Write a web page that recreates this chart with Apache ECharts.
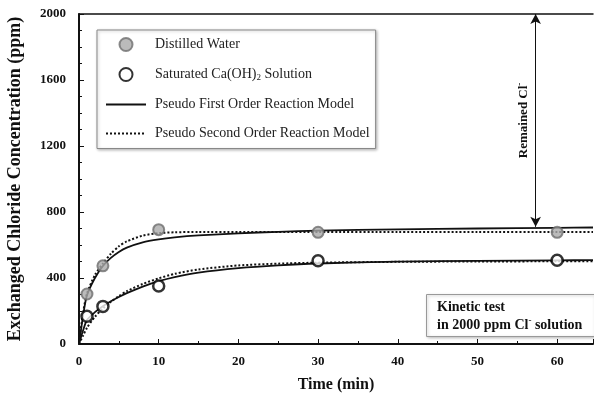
<!DOCTYPE html>
<html>
<head>
<meta charset="utf-8">
<script src="https://cdn.jsdelivr.net/npm/echarts@6/dist/echarts.min.js"></script>
<style>
  html, body { margin: 0; padding: 0; background: #fff; }
  #container { width: 594px; height: 394px; }
</style>
</head>
<body>
<div id="container"></div>
<script>
// measured points (time in min, concentration in ppm)
var timePts = [1, 3, 10, 30, 60];
var distilledWater = [303, 474, 693, 677, 677];
var saturatedCaOH = [168, 228, 352, 505, 507];

// fitted model curves
var modelTime = [0, 0.5, 1, 2, 3, 4, 5, 6, 8, 10, 12, 15, 20, 25, 30, 40, 50, 60, 64.5];
var dwFirst  = [0, 168, 295, 400, 473, 522, 558, 584, 616, 634, 646, 658, 671, 680, 687, 695, 700, 704, 706];
var dwSecond = [0, 185, 306, 418, 487, 547, 592, 622, 657, 672, 677, 679, 679, 679, 679, 679, 679, 679, 679];
var caFirst  = [0, 80, 145, 193, 229, 259, 285, 308, 348, 381, 406, 433, 460, 477, 488, 499, 504, 507, 508];
var caSecond = [0, 50, 98, 165, 215, 256, 290, 320, 364, 398, 425, 452, 476, 487, 493, 498, 500, 501, 501];

var remainedLine = [710, 2000];
var remainedAt = 57.3;

var legendNames = ['Distilled Water', 'Saturated Ca(OH)2 Solution',
    'Pseudo First Order Reaction Model', 'Pseudo Second Order Reaction Model'];

function zip(xs, ys) {
    var out = [];
    for (var i = 0; i < xs.length; i++) {
        out.push([xs[i], ys[i]]);
    }
    return out;
}

var serif = 'Liberation Serif';
var dom = document.getElementById("container");
var myChart = echarts.init(dom);

var noDot = {color: 'rgba(0,0,0,0)', borderColor: 'rgba(0,0,0,0)', borderWidth: 0, opacity: 0};

var option = {
    animation: false,
    textStyle: {fontFamily: serif},
    title: {
        text: '{b|Kinetic test}\n{b|in 2000 ppm Cl}{s|-}{b| solution}',
        left: 426,
        top: 292,
        padding: [6, 12, 5, 11],
        backgroundColor: '#fff',
        borderColor: '#999',
        borderWidth: 1,
        shadowColor: 'rgba(0,0,0,0.25)',
        shadowBlur: 3,
        shadowOffsetX: 1,
        shadowOffsetY: 1,
        textStyle: {
            rich: {
                b: {fontFamily: serif, fontSize: 14, fontWeight: 'bold', color: '#111', lineHeight: 18},
                s: {fontFamily: serif, fontSize: 9, fontWeight: 'bold', color: '#111', padding: [0, 0, 8, 0]}
            }
        }
    },
    legend: {
        orient: 'vertical',
        left: 97,
        top: 30,
        padding: [7, 6, 8, 8],
        itemGap: 15,
        itemWidth: 40,
        itemHeight: 13,
        backgroundColor: '#fff',
        borderColor: '#888',
        borderWidth: 1,
        shadowColor: 'rgba(0,0,0,0.25)',
        shadowBlur: 3,
        shadowOffsetX: 1,
        shadowOffsetY: 1,
        data: [
            {name: legendNames[0]},
            {name: legendNames[1]},
            {name: legendNames[2], itemStyle: noDot},
            {name: legendNames[3], itemStyle: noDot}
        ],
        formatter: function (name) {
            if (name === legendNames[1]) {
                return '{a|Saturated Ca(OH)}{s|2}{b| Solution}';
            }
            return '{a|' + name + '}';
        },
        textStyle: {
            rich: {
                a: {fontFamily: serif, fontSize: 14, color: '#222', padding: [0, 0, 0, 4]},
                b: {fontFamily: serif, fontSize: 14, color: '#222'},
                s: {fontFamily: serif, fontSize: 9, color: '#222', padding: [7, 0, 0, 0]}
            }
        }
    },
    grid: {
        left: 79,
        right: 1,
        top: 14,
        bottom: 50,
        containLabel: false,
        outerBoundsMode: 'none'
    },
    xAxis: [{
        type: 'value',
        min: 0,
        max: 64.5,
        interval: 10,
        name: 'Time (min)',
        nameLocation: 'middle',
        nameGap: 33,
        nameTextStyle: {fontFamily: serif, fontSize: 16, fontWeight: 'bold', color: '#111'},
        axisLine: {onZero: false, lineStyle: {color: '#111', width: 2}},
        axisTick: {inside: true, length: 5, lineStyle: {color: '#111'}},
        minorTick: {show: true, splitNumber: 2, length: 3, lineStyle: {color: '#111'}},
        axisLabel: {
            margin: 11,
            fontFamily: serif, fontSize: 13, fontWeight: 'bold', color: '#111',
            formatter: function (v) { return v > 60 ? '' : String(v); }
        },
        splitLine: {show: false}
    }, {
        type: 'value',
        position: 'top',
        min: 0,
        max: 64.5,
        axisLine: {show: true, onZero: false, lineStyle: {color: '#111', width: 1.5}},
        axisTick: {show: false},
        axisLabel: {show: false},
        splitLine: {show: false}
    }],
    yAxis: {
        type: 'value',
        min: 0,
        max: 2000,
        interval: 400,
        name: 'Exchanged Chloride Concentration (ppm)',
        nameLocation: 'middle',
        nameGap: 55,
        nameTextStyle: {fontFamily: serif, fontSize: 18, fontWeight: 'bold', color: '#111'},
        axisLine: {show: true, onZero: false, lineStyle: {color: '#111', width: 2}},
        axisTick: {inside: true, length: 5, lineStyle: {color: '#111'}},
        minorTick: {show: true, splitNumber: 4, length: 3, lineStyle: {color: '#111'}},
        axisLabel: {
            margin: 13, fontFamily: serif, fontSize: 13, fontWeight: 'bold', color: '#111',
            formatter: function (v) { return String(v); }
        },
        splitLine: {show: false}
    },
    series: [
        {
            name: legendNames[2],
            type: 'line',
            data: zip(modelTime, dwFirst),
            smooth: 0.25,
            symbol: 'none',
            lineStyle: {color: '#111', width: 1.8, type: 'solid'},
            itemStyle: {color: '#111'},
            markLine: {
                silent: true,
                symbol: ['arrow', 'arrow'],
                symbolSize: [8, 10],
                lineStyle: {color: '#111', width: 1, type: 'solid'},
                label: {
                    show: true,
                    position: 'insideMiddleTop',
                    distance: 3,
                    formatter: '{a|Remained Cl}{s|-}',
                    rich: {
                        a: {fontFamily: serif, fontSize: 13, fontWeight: 'bold', color: '#111'},
                        s: {fontFamily: serif, fontSize: 9, fontWeight: 'bold', color: '#111', padding: [0, 0, 8, 0]}
                    }
                },
                data: [[{coord: [remainedAt, remainedLine[0]]}, {coord: [remainedAt, remainedLine[1]]}]]
            }
        },
        {
            name: legendNames[2],
            type: 'line',
            data: zip(modelTime, caFirst),
            smooth: 0.25,
            symbol: 'none',
            lineStyle: {color: '#111', width: 1.8, type: 'solid'},
            itemStyle: {color: '#111'}
        },
        {
            name: legendNames[3],
            type: 'line',
            data: zip(modelTime, dwSecond),
            smooth: 0.25,
            symbol: 'none',
            lineStyle: {color: '#111', width: 2, type: [2, 2]},
            itemStyle: {color: '#111'}
        },
        {
            name: legendNames[3],
            type: 'line',
            data: zip(modelTime, caSecond),
            smooth: 0.25,
            symbol: 'none',
            lineStyle: {color: '#111', width: 2, type: [2, 2]},
            itemStyle: {color: '#111'}
        },
        {
            name: legendNames[0],
            type: 'scatter',
            z: 5,
            data: zip(timePts, distilledWater),
            symbol: 'circle',
            symbolSize: 11,
            itemStyle: {color: '#aaa', borderColor: '#6e6e6e', borderWidth: 2}
        },
        {
            name: legendNames[1],
            type: 'scatter',
            z: 5,
            data: zip(timePts, saturatedCaOH),
            symbol: 'circle',
            symbolSize: 11,
            itemStyle: {color: '#fff', borderColor: '#000', borderWidth: 2.5}
        }
    ]
};

myChart.setOption(option, true);
</script>
</body>
</html>
